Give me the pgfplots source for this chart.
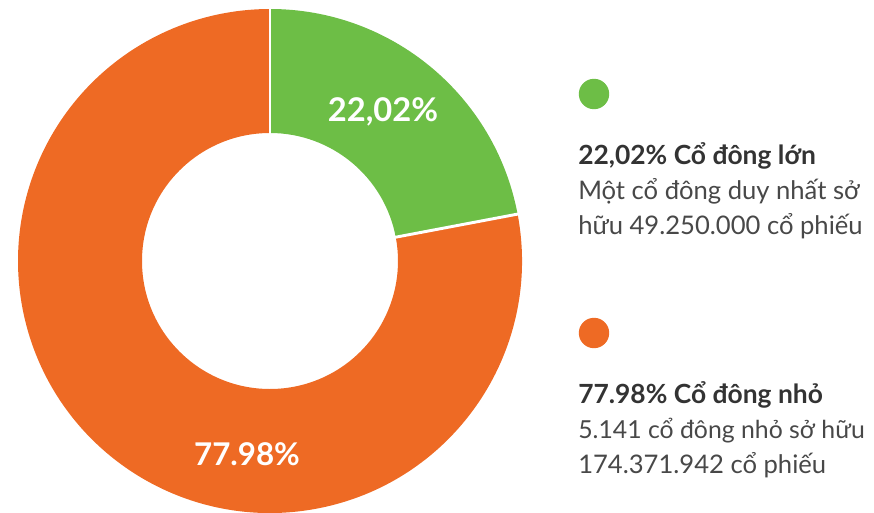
\documentclass[border=0pt]{standalone}
\usepackage{fontspec}
\setmainfont{Lato}
\usepackage{pgfplots}
\pgfplotsset{compat=1.18}
\definecolor{cgreen}{HTML}{6DBE46}
\definecolor{corange}{HTML}{EE6A24}
\definecolor{ctext}{HTML}{333333}
\definecolor{cbody}{HTML}{484848}
% shares (percent)
\def\valA{22.02}
\def\valB{77.98}
\begin{document}
\begin{tikzpicture}
\begin{axis}[
  hide axis, scale only axis,
  width=655.5pt, height=384pt,
  xmin=0, xmax=874, ymin=0, ymax=512,
  clip=false]
\coordinate (c) at (axis cs:270,251);
\pgfmathsetmacro{\aA}{90}
\pgfmathsetmacro{\aB}{90-3.6*\valA}
\pgfmathsetmacro{\aC}{\aB-3.6*\valB}
\def\RO{189pt}
\def\RI{96pt}
\fill[cgreen] ([shift={(\aA:\RO)}]c) arc[start angle=\aA,end angle=\aB,radius=\RO]
   -- ([shift={(\aB:\RI)}]c) arc[start angle=\aB,end angle=\aA,radius=\RI] -- cycle;
\fill[corange] ([shift={(\aB:\RO)}]c) arc[start angle=\aB,end angle=\aC,radius=\RO]
   -- ([shift={(\aC:\RI)}]c) arc[start angle=\aC,end angle=\aB,radius=\RI] -- cycle;
\draw[white, line width=2.2pt] ([shift={(\aA:94pt)}]c) -- ([shift={(\aA:191pt)}]c);
\draw[white, line width=2.2pt] ([shift={(\aB:94pt)}]c) -- ([shift={(\aB:191pt)}]c);
\node[white, font=\fontsize{24.5}{28}\selectfont\bfseries] at (axis cs:383,400) {22,02\%};
\node[white, font=\fontsize{23.5}{28}\selectfont\bfseries] at (axis cs:247,58) {77.98\%};
% legend
\fill[cgreen] (axis cs:594,418) circle[radius=11.4pt];
\fill[corange] (axis cs:594,179) circle[radius=11.4pt];
\node[anchor=base west, inner sep=0pt, text=ctext, font=\fontsize{19.8}{22}\selectfont\bfseries] at (axis cs:578,348) {22,02\% Cổ đông lớn};
\node[anchor=base west, inner sep=0pt, text=cbody, font=\fontsize{19.2}{22}\selectfont] at (axis cs:578,313) {Một cổ đông duy nhất sở};
\node[anchor=base west, inner sep=0pt, text=cbody, font=\fontsize{19.2}{22}\selectfont] at (axis cs:578,278) {hữu 49.250.000 cổ phiếu};
\node[anchor=base west, inner sep=0pt, text=ctext, font=\fontsize{19.8}{22}\selectfont\bfseries] at (axis cs:578,109) {77.98\% Cổ đông nhỏ};
\node[anchor=base west, inner sep=0pt, text=cbody, font=\fontsize{18.6}{22}\selectfont] at (axis cs:578,74) {5.141 cổ đông nhỏ sở hữu};
\node[anchor=base west, inner sep=0pt, text=cbody, font=\fontsize{19.2}{22}\selectfont] at (axis cs:578,39) {174.371.942 cổ phiếu};
\end{axis}
\pgfresetboundingbox
\useasboundingbox (0,0) rectangle (655.5pt,384pt);
\end{tikzpicture}
\end{document}
